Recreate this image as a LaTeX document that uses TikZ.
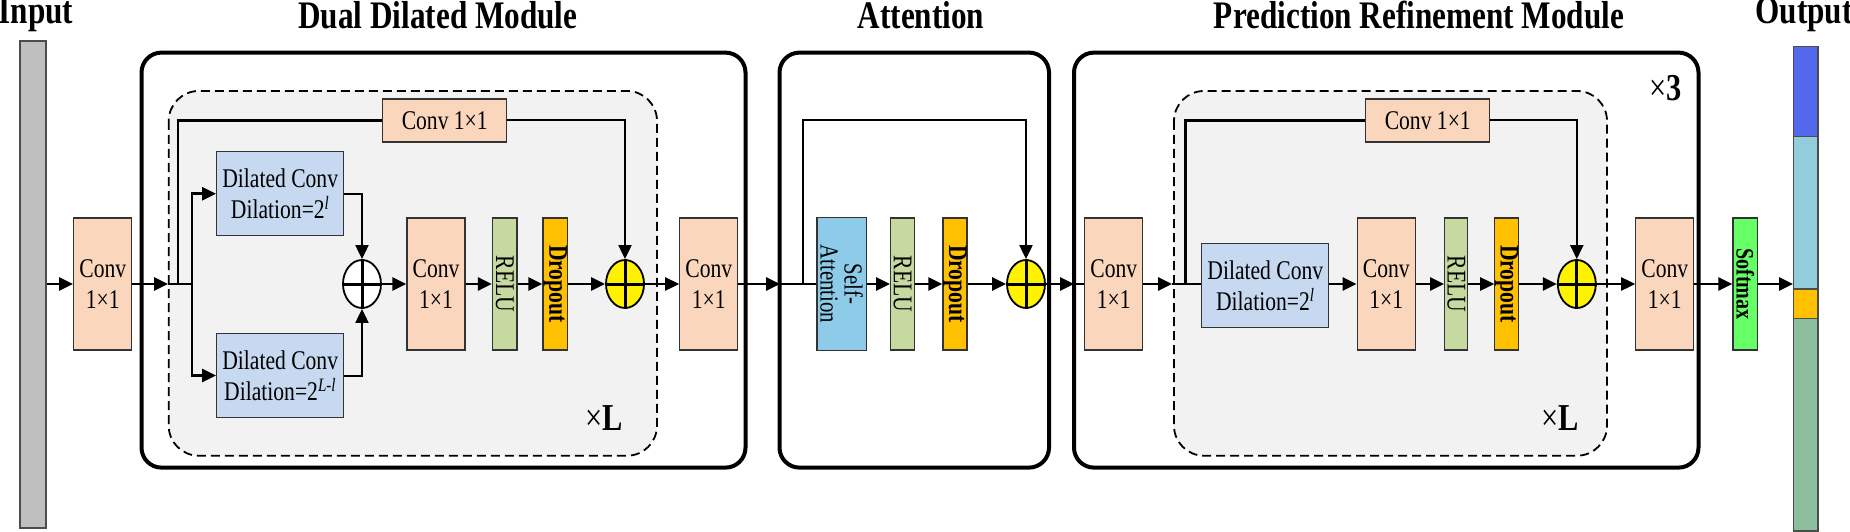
\documentclass[tikz,border=0pt]{standalone}
\usepackage{fontspec}
\setmainfont[FakeStretch=0.8]{Liberation Serif}
\usetikzlibrary{arrows.meta,shapes.geometric}
\definecolor{peach}{HTML}{FAD7BC}
\definecolor{dilblue}{HTML}{C6D9F0}
\definecolor{relug}{HTML}{C5D9A0}
\definecolor{dropo}{HTML}{FFC000}
\definecolor{saBlue}{HTML}{8ECBE8}
\definecolor{smGreen}{HTML}{66FF66}
\definecolor{dashfill}{HTML}{F2F2F2}
\definecolor{outA}{HTML}{5468EE}
\definecolor{outB}{HTML}{92CDDC}
\definecolor{outC}{HTML}{FFC000}
\definecolor{outD}{HTML}{8BBF9B}
\tikzset{
  box/.style={draw=black!80, line width=1.2pt, inner sep=0pt, align=center, font=\fontsize{27}{31}\selectfont},
  convbox/.style={box, fill=peach, minimum width=58pt, minimum height=132pt},
  relubox/.style={box, fill=relug, rotate=-90, minimum width=132pt},
  dropbox/.style={box, fill=dropo, rotate=-90, minimum width=132pt, font=\fontsize{27}{31}\selectfont\bfseries},
  dilbox/.style={box, fill=dilblue, minimum width=127pt, minimum height=84pt},
  skipbox/.style={box, fill=peach, minimum width=124pt, minimum height=43pt},
  plusw/.style={ellipse, draw, line width=1.8pt, minimum width=38pt, minimum height=48pt, inner sep=0pt},
  plusy/.style={plusw, fill=yellow},
  ln/.style={line width=2.6pt},
  arr/.style={line width=2.6pt, -{Triangle[length=14pt,width=13pt]}},
  outer/.style={draw, line width=4pt, rounded corners=20pt},
  dashbox/.style={draw, line width=1.8pt, dash pattern=on 9pt off 5pt, fill=dashfill, rounded corners=30pt},
  ttl/.style={font=\fontsize{39}{42}\selectfont\bfseries},
  rep/.style={font=\fontsize{38}{40}\selectfont}
}
\newcommand{\pluscross}[1]{\draw[line width=3pt] (#1.north) -- (#1.south) (#1.west) -- (#1.east);}
\begin{document}
\begin{tikzpicture}[x=1pt,y=-1pt]
\useasboundingbox (0,0) rectangle (1850,532);
% titles
\node[ttl] (tIn) at (36,15) {Input};
\node[ttl] (tDDM) at (438,15) {Dual Dilated Module};
\node[ttl] (tAtt) at (921,15) {Attention};
\node[ttl] (tPRM) at (1419,15) {Prediction Refinement Module};
\node[ttl, anchor=west] (tOut) at (1752,15) {Output};
% input bar
\node[draw=black!70, line width=1.2pt, fill=black!25, minimum width=26pt, minimum height=487pt, inner sep=0pt] (inbar) at (33,284.5) {};
% outer boxes
\draw[outer] (141.5,52.6) rectangle (745.5,467.6);
\draw[outer] (779.5,52.6) rectangle (1049,467.6);
\draw[outer] (1074,52.6) rectangle (1698.5,467.6);
\draw[dashbox] (168.7,91) rectangle (657,455.7);
\draw[dashbox] (1174,91) rectangle (1607,455.7);
\node[rep] (xL1) at (604,418) {×\textbf{L}};
\node[rep] (xL2) at (1560,418) {×\textbf{L}};
\node[rep] (x3) at (1666,88) {×\textbf{3}};
% DDM nodes
\node[convbox] (conv1) at (102.75,284) {Conv\\1×1};
\node[skipbox] (skipA) at (444.75,120.5) {Conv 1×1};
\node[dilbox] (dilA) at (280.2,193.75) {Dilated Conv\\Dilation=2\textsuperscript{\itshape l}};
\node[dilbox] (dilB) at (280.2,375.5) {Dilated Conv\\Dilation=2\textsuperscript{\itshape L-l}};
\node[plusw, fill=white] (plusA) at (362,284) {};
\pluscross{plusA}
\node[convbox] (convA) at (436,284) {Conv\\1×1};
\node[relubox, minimum height=24.5pt] (reluA) at (504.75,284) {RELU};
\node[dropbox, minimum height=24.6pt] (dropA) at (555.3,284) {Dropout};
\node[plusy] (plusB) at (625,284) {};
\pluscross{plusB}
\node[convbox] (conv2) at (708.8,284) {Conv\\1×1};
% attention
\node[box, fill=saBlue, rotate=-90, minimum width=133pt, minimum height=49.4pt, font=\fontsize{26}{24}\selectfont] (sa) at (841.7,284) {Self-\\Attention};
\node[relubox, minimum height=23.6pt] (reluB) at (902.5,284) {RELU};
\node[dropbox, minimum height=24pt] (dropB) at (955,284) {Dropout};
\node[plusy] (plusC) at (1026,284) {};
\pluscross{plusC}
% PRM
\node[convbox] (conv3) at (1113.8,284) {Conv\\1×1};
\node[skipbox] (skipC) at (1427.75,120.5) {Conv 1×1};
\node[dilbox] (dilC) at (1265.3,285.8) {Dilated Conv\\Dilation=2\textsuperscript{\itshape l}};
\node[convbox] (convC) at (1386.25,284) {Conv\\1×1};
\node[relubox, minimum height=23pt] (reluC) at (1456.2,284) {RELU};
\node[dropbox, minimum height=23.6pt] (dropC) at (1506.6,284) {Dropout};
\node[plusy] (plusD) at (1576.8,284) {};
\pluscross{plusD}
\node[convbox] (conv4) at (1664.8,284) {Conv\\1×1};
\node[box, fill=smGreen, rotate=-90, minimum width=132pt, minimum height=24.6pt, font=\fontsize{25}{28}\selectfont\bfseries] (sm) at (1745.3,284) {Softmax};
% output bar
\fill[outA] (1793.7,46.5) rectangle (1818,136.7);
\fill[outB] (1793.7,136.7) rectangle (1818,289);
\fill[outC] (1793.7,289) rectangle (1818,318.3);
\fill[outD] (1793.7,318.3) rectangle (1818,531);
\draw[line width=1.2pt, black!70] (1793.7,136.7) -- (1818,136.7) (1793.7,289) -- (1818,289) (1793.7,318.3) -- (1818,318.3);
\node[draw=black!70, line width=1.2pt, minimum width=24.3pt, minimum height=484.5pt, inner sep=0pt] (outbar) at (1805.85,288.75) {};
% connectors DDM
\coordinate (inA) at (168,284);
\coordinate (skA) at (178,284);
\coordinate (brA) at (192,284);
\draw[arr] (inbar.east |- conv1.center) -- (conv1.west);
\draw[arr] (conv1) -- (inA);
\draw[ln] (inA) -- (brA);
\draw[arr] (brA) |- (dilA.west);
\draw[arr] (brA) |- (dilB.west);
\draw[ln] (skA) |- (skipA.west);
\draw[arr, line width=2pt] (skipA.east) -| (plusB.north);
\draw[arr, line width=2pt] (dilA.east) -| (plusA.north);
\draw[arr, line width=2pt] (dilB.east) -| (plusA.south);
\draw[arr] (plusA) -- (convA);
\draw[arr] (convA) -- (reluA);
\draw[arr] (reluA) -- (dropA);
\draw[arr] (dropA) -- (plusB);
\draw[arr] (plusB) -- (conv2);
% attention connectors
\coordinate (inB) at (780,284);
\coordinate (skB) at (803,284);
\draw[arr] (conv2) -- (inB);
\draw[ln] (inB) -- (sa);
\draw[arr, line width=2pt] (skB) -- ++(0,-163.5) -| (plusC.north);
\draw[arr] (sa) -- (reluB);
\draw[arr] (reluB) -- (dropB);
\draw[arr] (dropB) -- (plusC);
% PRM connectors
\coordinate (inC) at (1074,284);
\coordinate (inD) at (1172,284);
\coordinate (skD) at (1185.4,284);
\draw[arr] (plusC) -- (inC);
\draw[ln] (inC) -- (conv3);
\draw[arr] (conv3) -- (inD);
\draw[ln] (inD) -- (dilC.west |- inD);
\draw[ln] (skD) |- (skipC.west);
\draw[arr, line width=2pt] (skipC.east) -| (plusD.north);
\draw[arr] (dilC.east |- inD) -- (convC);
\draw[arr] (convC) -- (reluC);
\draw[arr] (reluC) -- (dropC);
\draw[arr] (dropC) -- (plusD);
\draw[arr] (plusD) -- (conv4);
\draw[arr] (conv4) -- (sm);
\draw[arr] (sm) -- (outbar.west |- sm.center);
\end{tikzpicture}
\end{document}
